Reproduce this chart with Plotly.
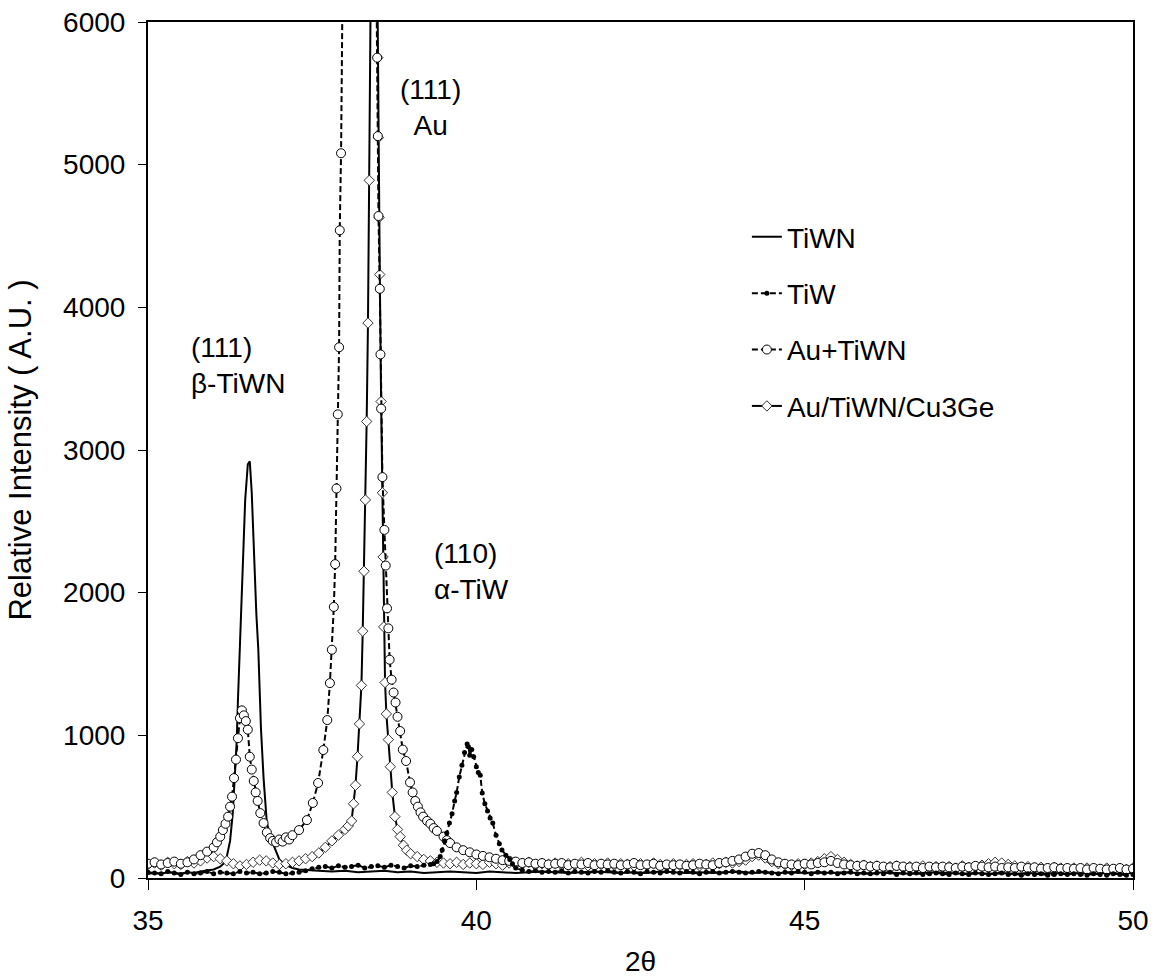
import numpy as np
import plotly.graph_objects as go

def grid(a, b, step):
    return [round(v, 2) for v in np.arange(a, b + step / 2, step)]

# ---------------- TiWN (solid line) ----------------
tiwn_base1_y = [30, 35, 30, 40, 35, 30, 40, 35, 45, 50, 60]                      # 35.0-36.0
tiwn_peak_x = [36.1, 36.15, 36.2, 36.25, 36.29, 36.32, 36.35, 36.37, 36.4, 36.44, 36.48, 36.52,
               36.55, 36.58, 36.61, 36.65, 36.68, 36.72, 36.76, 36.81, 36.88, 36.95, 37.0, 37.1,
               37.2, 37.3]
tiwn_peak_y = [80, 100, 150, 260, 450, 666, 950, 1250, 1600, 2150, 2650, 2900,
               2920, 2700, 2300, 1850, 1600, 1050, 700, 385, 266, 180, 130, 90,
               70, 60]
tiwn_base2_y = [55, 50, 45, 50, 40, 45, 50, 40, 45, 35,
                40, 45, 40, 35, 45, 40, 35, 40, 45, 40,
                35, 40, 45, 40, 35, 40, 35, 45, 40, 35,
                40, 35, 40, 45, 35, 40, 35, 40, 35, 40,
                35, 40, 35, 30, 40, 35, 30, 35, 40, 35,
                30, 35, 30, 35, 30, 35, 30, 35, 30, 35,
                30, 35, 30, 35]                                                  # 37.4-50.0 step 0.2

# ---------------- TiW (dashed, filled dots) ----------------
tiw_base1_y = [40, 35, 30, 45, 35, 25, 40, 30, 35, 45, 30, 40, 35, 30, 45, 35, 40, 30, 35, 45,
               40, 30, 35, 40, 50]                                                # 35.0-37.4
tiw_base2_y = [65, 75, 80, 70, 85, 75, 80, 90, 70, 80, 85, 75, 90, 80, 70, 85, 80, 90, 95]  # 37.5-39.3
tiw_peak_x = [39.35, 39.4, 39.45, 39.48, 39.52, 39.55, 39.59, 39.63, 39.67, 39.7, 39.74, 39.78,
              39.82, 39.86, 39.88, 39.9, 39.93, 39.96, 40.0, 40.03, 40.06, 40.09, 40.13, 40.17,
              40.21, 40.25, 40.3, 40.35, 40.39, 40.45, 40.51, 40.55, 40.6]
tiw_peak_y = [100, 115, 150, 196, 260, 315, 385, 450, 540, 600, 708, 790,
              880, 940, 920, 860, 900, 850, 780, 740, 720, 596, 520, 470,
              420, 385, 300, 240, 196, 160, 130, 100, 70]
tiw_base3_y = [55, 45, 50, 40,
               45, 40, 50, 35, 45, 40, 35, 45, 40, 50,
               40, 35, 45, 40, 30, 45, 40, 35, 45, 40,
               35, 45, 40, 30, 40, 45, 35, 40, 45, 40,
               35, 40, 45, 40, 35, 30, 40, 35, 45, 40,
               30, 40, 35, 40, 30, 35, 40, 30, 35, 30,
               35, 30, 40, 25, 35, 30, 35, 25, 30, 35,
               30, 25, 35, 30, 25, 35, 30, 25, 30, 35,
               25, 30, 20, 30, 25, 30, 20, 25, 30, 25,
               30, 25, 20, 30, 25, 20, 30, 25, 20, 25]                          # 40.7-50.0

# ---------------- Au+TiWN (dashed, open circles) ----------------
autiwn_base1_y = [100, 110, 95, 105, 115, 100, 110, 130, 160, 185]              # 35.0-35.9
autiwn_peak_x = [36.0, 36.05, 36.1, 36.14, 36.18, 36.22, 36.25, 36.28, 36.31, 36.34, 36.37, 36.4,
                 36.43, 36.46, 36.49, 36.52, 36.55, 36.58, 36.61, 36.64, 36.67, 36.71, 36.76,
                 36.81, 36.86, 36.9, 36.95, 37.0, 37.05, 37.1, 37.15, 37.2, 37.3, 37.42, 37.51,
                 37.59, 37.67, 37.73, 37.77, 37.8, 37.83, 37.85, 37.87, 37.89, 37.91, 37.92,
                 37.94, 37.97, 38.05, 38.2, 38.35, 38.45, 38.49, 38.5, 38.51, 38.53, 38.54,
                 38.55, 38.57, 38.6, 38.62, 38.64, 38.66, 38.68, 38.71, 38.74, 38.77, 38.8,
                 38.84, 38.88, 38.93, 38.99, 39.03, 39.07, 39.11, 39.15, 39.19, 39.25, 39.3,
                 39.35, 39.4, 39.5, 39.55, 39.6, 39.7, 39.8, 39.9, 40.0, 40.1, 40.2, 40.3,
                 40.4, 40.5]
autiwn_peak_y = [215, 250, 290, 336, 380, 430, 500, 570, 700, 830, 980, 1120,
                 1175, 1140, 1100, 1040, 850, 760, 680, 600, 540, 455, 385,
                 320, 280, 260, 250, 270, 255, 285, 270, 300, 336, 406, 526,
                 666, 897, 1107, 1366, 1600, 1900, 2200, 2730, 3250, 3720, 4540,
                 5080, 6600, 11000, 16000, 13000, 7500, 5750, 5200, 4640, 4130, 3670,
                 3290, 2810, 2440, 2190, 1890, 1750, 1530, 1390, 1300, 1230, 1130,
                 1030, 900, 820, 670, 600, 540, 500, 460, 430, 400, 380,
                 350, 330, 290, 265, 245, 215, 195, 180, 165, 155, 145, 135,
                 125, 120]
autiwn_base2_y = [115, 105, 110, 100, 105,
                  95, 100, 105, 90, 100, 95, 105, 90, 100, 95,
                  100, 90, 95, 105, 90, 95, 100, 85, 95, 90,
                  95, 85, 90, 100, 95, 90, 105, 110, 120, 130,
                  150, 170, 175, 160, 130, 110, 100, 95, 90, 100,
                  95, 105, 110, 120, 105, 95, 90, 85, 90, 80,
                  85, 80, 75, 85, 80, 75, 80, 70, 80, 75,
                  80, 75, 70, 80, 75, 85, 80, 75, 80, 70,
                  75, 70, 80, 70, 75, 65, 70, 75, 65, 70,
                  65, 70, 60, 70, 65, 60, 65, 70, 60, 65]                       # 40.6-50.0

# ---------------- Au/TiWN/Cu3Ge (solid, open diamonds) ----------------
cuge_base1_y = [95, 105, 90, 110, 100, 95, 115, 105, 120, 140, 150, 135, 120, 100, 85, 95,
                110, 125, 120, 105, 95, 100, 110, 120, 135]                     # 35.0-37.4
cuge_peak_x = [37.5, 37.6, 37.7, 37.8, 37.9, 38.0, 38.05, 38.1, 38.13, 38.16, 38.19, 38.22,
               38.25, 38.27, 38.29, 38.31, 38.33, 38.35, 38.37, 38.39, 38.42, 38.45, 38.48,
               38.5, 38.51, 38.52, 38.53, 38.55, 38.57, 38.58, 38.59, 38.61, 38.63, 38.66,
               38.69, 38.72, 38.76, 38.8, 38.84, 38.89, 38.94, 39.0, 39.1, 39.2, 39.3, 39.4]
cuge_peak_y = [150, 175, 215, 260, 300, 340, 365, 400, 520, 650, 850, 1080,
               1350, 1730, 2150, 2650, 3200, 3890, 4890, 6400, 9000, 9500, 7000,
               5750, 5190, 4630, 4230, 3340, 2700, 2250, 1760, 1370, 1150, 970,
               780, 600, 430, 340, 290, 230, 195, 170, 150, 130, 120, 110]
cuge_base2_y = [105, 100, 110, 95, 105, 100,
                95, 110, 100, 90, 105, 95, 100, 110, 90, 100,
                95, 105, 90, 100, 95, 110, 85, 100, 95, 105,
                90, 100, 95, 85, 100, 90, 105, 95, 85, 100,
                90, 95, 100, 85, 95, 105, 100, 110, 105, 115,
                125, 150, 160, 140, 115, 100, 95, 90, 100, 95,
                105, 115, 135, 150, 130, 110, 95, 85, 90, 80,
                85, 75, 80, 85, 70, 80, 75, 85, 70, 80,
                75, 80, 70, 85, 75, 80, 90, 100, 110, 105,
                95, 85, 75, 80, 70, 75, 65, 75, 70, 65,
                70, 60, 70, 65, 60, 70, 55, 65, 60, 70]                          # 39.5-50.0

def join(*parts):
    xs, ys = [], []
    for x, y in parts:
        assert len(x) == len(y), (len(x), len(y))
        xs += list(x)
        ys += list(y)
    return xs, ys

tiwn_x, tiwn_y = join((grid(35.0, 36.0, 0.1), tiwn_base1_y), (tiwn_peak_x, tiwn_peak_y),
                      (grid(37.4, 50.0, 0.2), tiwn_base2_y))
tiw_x, tiw_y = join((grid(35.0, 37.4, 0.1), tiw_base1_y), (grid(37.5, 39.3, 0.1), tiw_base2_y),
                    (tiw_peak_x, tiw_peak_y), (grid(40.7, 50.0, 0.1), tiw_base3_y))
autiwn_x, autiwn_y = join((grid(35.0, 35.9, 0.1), autiwn_base1_y), (autiwn_peak_x, autiwn_peak_y),
                          (grid(40.6, 50.0, 0.1), autiwn_base2_y))
cuge_x, cuge_y = join((grid(35.0, 37.4, 0.1), cuge_base1_y), (cuge_peak_x, cuge_peak_y),
                      (grid(39.5, 50.0, 0.1), cuge_base2_y))

FONT = "Liberation Sans, Arial, sans-serif"
DASH = "6px,3px"

fig = go.Figure()
fig.add_trace(go.Scatter(x=tiwn_x, y=tiwn_y, name="TiWN", mode="lines", legendgroup="a",
                         line=dict(color="black", width=2), legendrank=1))
fig.add_trace(go.Scatter(x=cuge_x, y=cuge_y, name="Au/TiWN/Cu3Ge", mode="lines+markers",
                         legendgroup="d",
                         line=dict(color="black", width=2),
                         marker=dict(symbol="diamond", size=8, color="white",
                                     line=dict(color="#333333", width=1)), legendrank=4))
fig.add_trace(go.Scatter(x=autiwn_x, y=autiwn_y, name="Au+TiWN", mode="lines+markers",
                         legendgroup="c",
                         line=dict(color="black", width=2, dash=DASH),
                         marker=dict(symbol="circle", size=9, color="white",
                                     line=dict(color="black", width=1)), legendrank=3))
fig.add_trace(go.Scatter(x=tiw_x, y=tiw_y, name="TiW", mode="lines+markers", legendgroup="b",
                         line=dict(color="black", width=2, dash=DASH),
                         marker=dict(symbol="circle", size=5, color="black"), legendrank=2))

ann_font = dict(family=FONT, size=28, color="black")
fig.add_annotation(x=35.62, y=3590, text="(111)<br>β-TiWN", showarrow=False, xanchor="left",
                   yanchor="middle", align="left", font=ann_font)
fig.add_annotation(x=39.3, y=5400, text="(111)<br>Au", showarrow=False, xanchor="center",
                   yanchor="middle", align="center", font=ann_font)
fig.add_annotation(x=39.32, y=2150, text="(110)<br>α-TiW", showarrow=False, xanchor="left",
                   yanchor="middle", align="left", font=ann_font)

fig.update_layout(
    width=1157, height=978,
    margin=dict(l=148, r=24, t=22, b=100),
    paper_bgcolor="white", plot_bgcolor="white",
    font=dict(family=FONT, size=28, color="black"),
    showlegend=True,
    legend=dict(x=0.608, y=0.778, xanchor="left", yanchor="top",
                bgcolor="rgba(0,0,0,0)", font=dict(family=FONT, size=28),
                traceorder="grouped", tracegroupgap=17),
    xaxis=dict(range=[35, 50], tickvals=[35, 40, 45, 50], showgrid=False, zeroline=False,
               showline=True, linecolor="black", linewidth=2, mirror=True,
               ticks="outside", ticklen=10, tickwidth=1, tickcolor="black",
               ticklabelstandoff=6, automargin=False,
               title=dict(text="2θ", font=dict(family=FONT, size=28), standoff=17)),
    yaxis=dict(range=[0, 6000], tickvals=[0, 1000, 2000, 3000, 4000, 5000, 6000],
               showgrid=False, zeroline=False,
               showline=True, linecolor="black", linewidth=2, mirror=True,
               ticks="outside", ticklen=8, tickwidth=1, tickcolor="black",
               ticklabelstandoff=7, automargin=False,
               title=dict(text="Relative Intensity ( A.U. )", font=dict(family=FONT, size=31),
                          standoff=22)),
)

fig.write_html("out.html")
